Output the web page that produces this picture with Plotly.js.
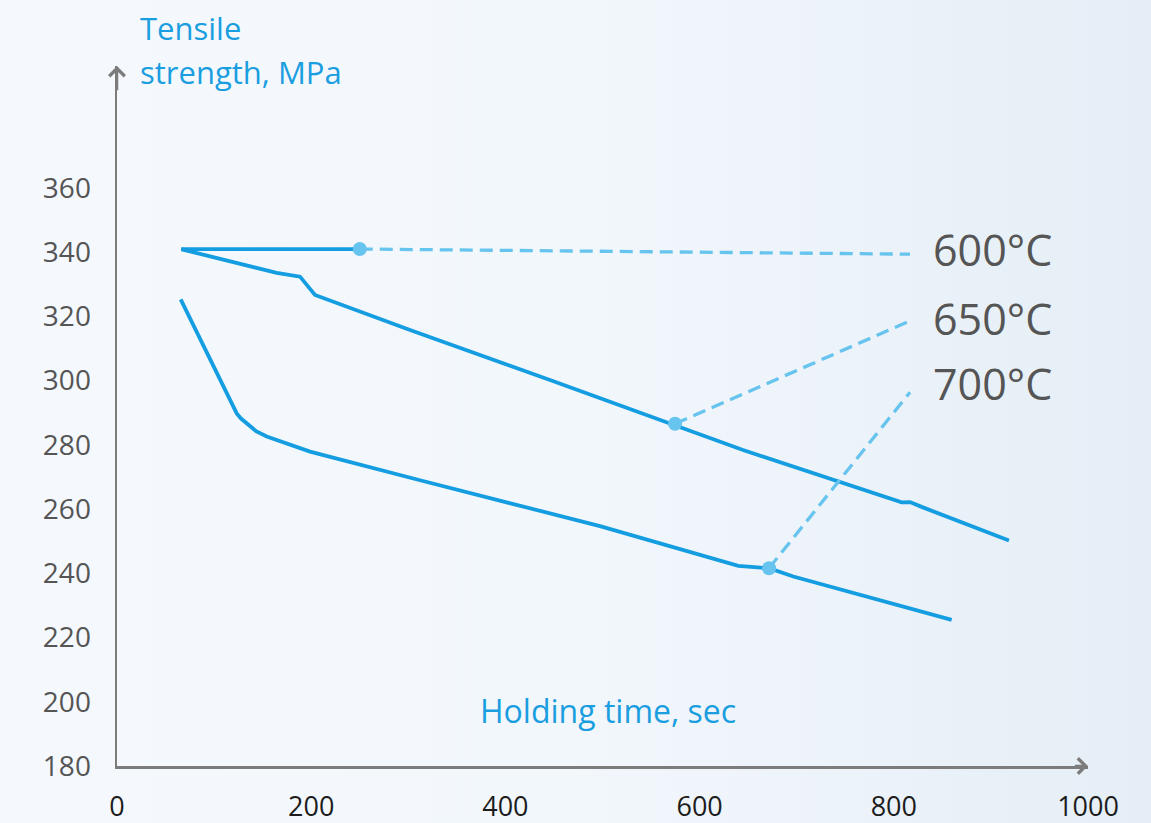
<!DOCTYPE html>
<html>
<head>
<meta charset="utf-8">
<script src="https://cdn.plot.ly/plotly-3.0.1.min.js"></script>
<style>
  html, body { margin: 0; padding: 0; }
  body {
    width: 1151px; height: 823px; overflow: hidden;
    background: linear-gradient(to right, #f5f9fd 0%, #f2f7fc 50%, #e5eef6 100%);
  }
  #chart { width: 1151px; height: 823px; }
</style>
</head>
<body>
<div id="chart"></div>
<script>
// ---- Data ----
const xTicks = [0, 200, 400, 600, 800, 1000];
const yTicks = [180, 200, 220, 240, 260, 280, 300, 320, 340, 360];

const series600Time = [66, 250];
const series600Strength = [341, 341];

const series650Time = [66.6, 164.5, 188.5, 203.9, 301.8, 418.1, 445.9, 644.7, 808.1, 816.7, 828.7, 918.6];
const series650Strength = [340.9, 333.6, 332.4, 326.7, 315.8, 303.0, 300.2, 278.4, 262.1, 262.2, 260.7, 250.2];

const series700Time = [65.6, 123.3, 127.7, 133.6, 143.2, 154.2, 198.8, 312.1, 497.4, 639.9, 671.5, 696.5, 859.6];
const series700Strength = [325.3, 289.8, 288.2, 286.7, 284.3, 282.6, 277.9, 269.0, 254.7, 242.3, 241.6, 239.0, 225.5];

const tempLabels = ["600°C", "650°C", "700°C"];
const markerTime = [250, 574.7, 671.5];
const markerStrength = [341, 286.6, 241.6];
const leaderEndTime = [816.7, 816.7, 816.7];
const leaderEndStrength = [339.4, 318.6, 296.4];
const labelStrength = [340.7, 319.5, 299.0];

// ---- Styles ----
const lineBlue = '#149de0';
const lightBlue = '#66c4ee';
const axisGrey = '#7c7c7c';

const traces = [];
const solidTimes = [series600Time, series650Time, series700Time];
const solidVals = [series600Strength, series650Strength, series700Strength];
for (let i = 0; i < 3; i++) {
  traces.push({
    x: solidTimes[i], y: solidVals[i], type: 'scatter', mode: 'lines',
    line: { color: lineBlue, width: 3.8 }, hoverinfo: 'skip', showlegend: false,
    name: tempLabels[i]
  });
}
for (let i = 0; i < 3; i++) {
  traces.push({
    x: [markerTime[i], leaderEndTime[i]], y: [markerStrength[i], leaderEndStrength[i]],
    type: 'scatter', mode: 'lines',
    line: { color: lightBlue, width: 3.3, dash: '13px,7px' }, hoverinfo: 'skip', showlegend: false
  });
}
traces.push({
  x: markerTime, y: markerStrength, type: 'scatter', mode: 'markers',
  marker: { color: lightBlue, size: 14 }, hoverinfo: 'skip', showlegend: false
});

const annotations = [];
for (let i = 0; i < 3; i++) {
  annotations.push({
    x: 838, y: labelStrength[i], xref: 'x', yref: 'y', xanchor: 'left', yanchor: 'middle',
    text: tempLabels[i], showarrow: false,
    font: { family: 'Open Sans, sans-serif', size: 43, color: '#555555' }
  });
}
// axis titles (paper coordinates: plot area spans 700 px vertically)
annotations.push({
  x: 0.0215, y: 1.054, xref: 'paper', yref: 'paper', xanchor: 'left', yanchor: 'middle',
  text: 'Tensile', showarrow: false,
  font: { family: 'Open Sans, sans-serif', size: 31, color: '#1a9ee0' }
});
annotations.push({
  x: 0.0215, y: 0.991, xref: 'paper', yref: 'paper', xanchor: 'left', yanchor: 'middle',
  text: 'strength, MPa', showarrow: false,
  font: { family: 'Open Sans, sans-serif', size: 31, color: '#1a9ee0' }
});
annotations.push({
  x: 372, y: 197.4, xref: 'x', yref: 'y', xanchor: 'left', yanchor: 'middle',
  text: 'Holding time, sec', showarrow: false,
  font: { family: 'Open Sans, sans-serif', size: 32, color: '#1a9ee0' }
});
// axis arrowheads
annotations.push({
  x: 1000, y: 180, ax: 985, ay: 180, xref: 'x', yref: 'y', axref: 'x', ayref: 'y',
  text: '', showarrow: true, arrowhead: 4, arrowsize: 1.2, arrowwidth: 2.5, arrowcolor: axisGrey
});
annotations.push({
  x: 0, y: 398, ax: 0, ay: 390, xref: 'x', yref: 'y', axref: 'x', ayref: 'y',
  text: '', showarrow: true, arrowhead: 4, arrowsize: 1.2, arrowwidth: 2.5, arrowcolor: axisGrey
});

const layout = {
  width: 1151, height: 823,
  paper_bgcolor: 'rgba(0,0,0,0)', plot_bgcolor: 'rgba(0,0,0,0)',
  margin: { l: 117, r: 63, t: 66, b: 57 },
  showlegend: false,
  xaxis: {
    range: [0, 1000], tickvals: xTicks, ticktext: xTicks.map(String),
    showgrid: false, zeroline: false, showline: true, linecolor: axisGrey, linewidth: 2.5,
    ticks: '', ticklabelstandoff: 15, automargin: false, fixedrange: true,
    tickfont: { family: 'Open Sans, sans-serif', size: 27, color: '#1c1c1c' }
  },
  yaxis: {
    range: [180, 398], tickvals: yTicks, ticktext: yTicks.map(String),
    showgrid: false, zeroline: false, showline: true, linecolor: axisGrey, linewidth: 2.5,
    ticks: '', ticklabelstandoff: 18, automargin: false, fixedrange: true,
    tickfont: { family: 'Open Sans, sans-serif', size: 28, color: '#555555' }
  },
  annotations: annotations
};

Plotly.newPlot('chart', traces, layout, { displayModeBar: false, staticPlot: true });
</script>
</body>
</html>
